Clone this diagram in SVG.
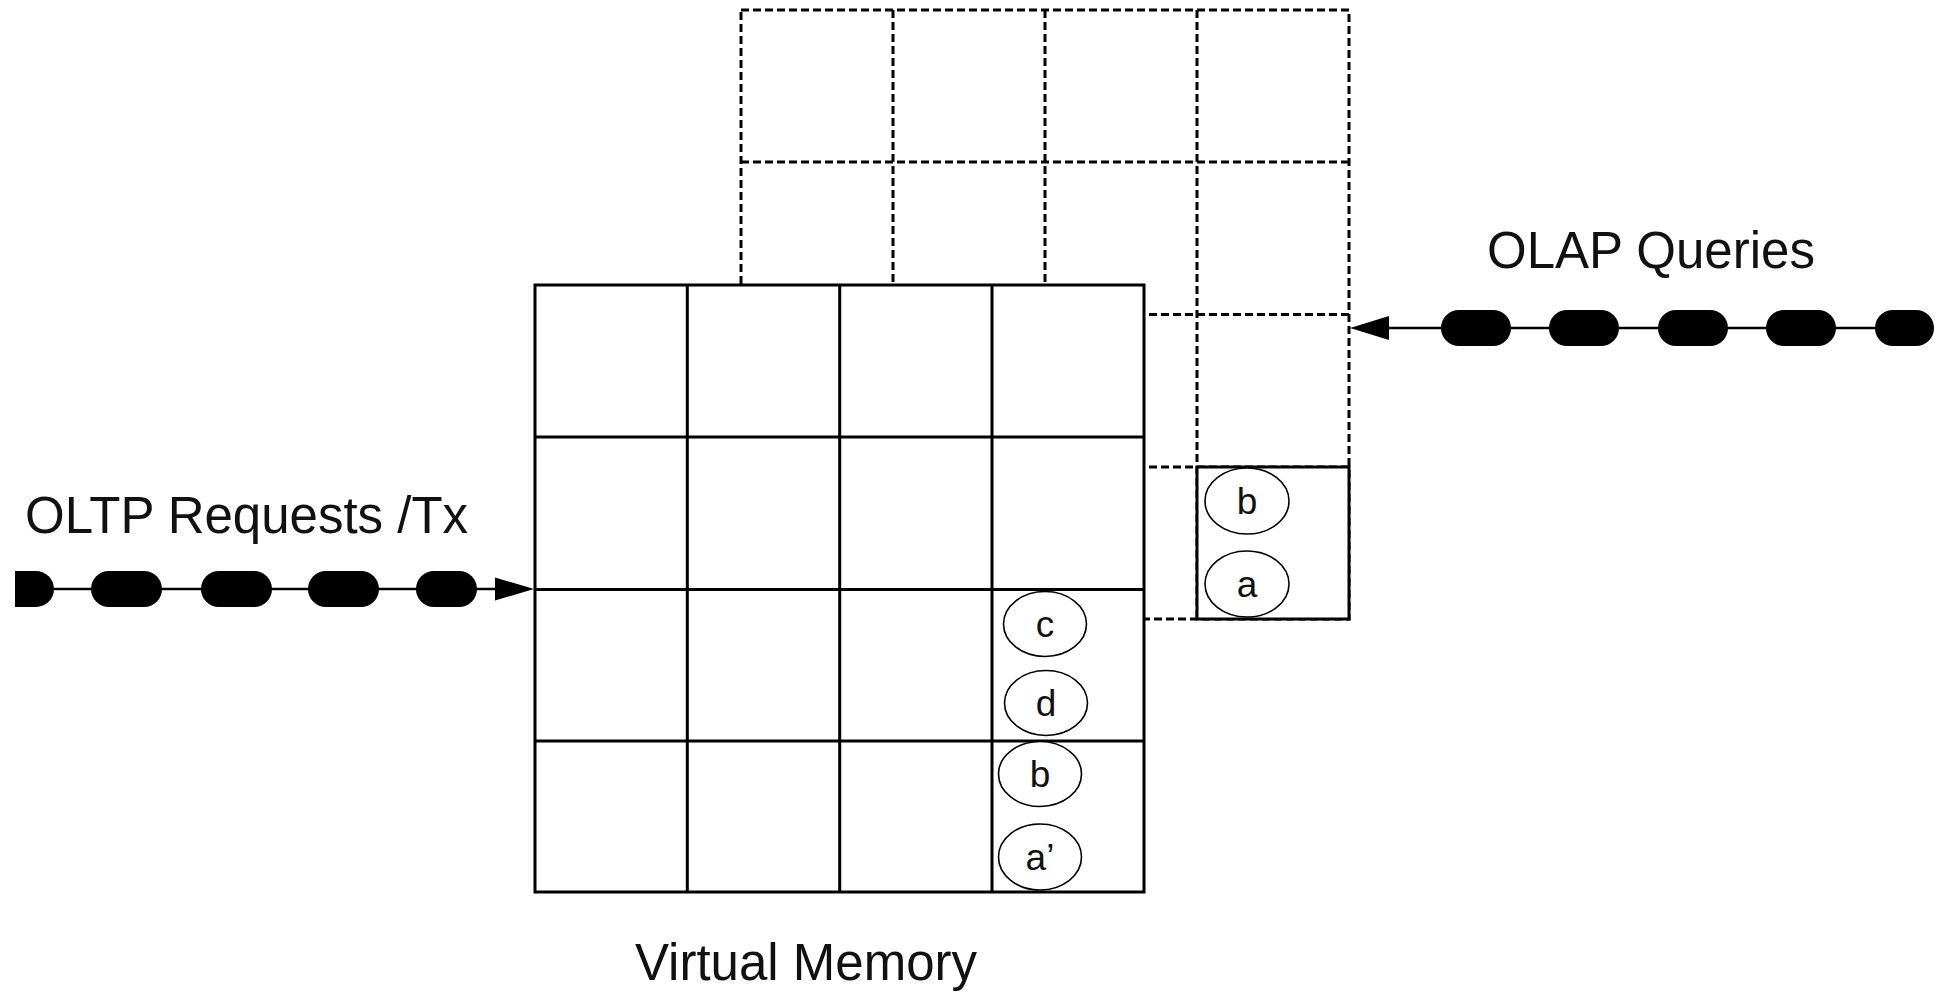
<svg xmlns="http://www.w3.org/2000/svg" width="1942" height="992" viewBox="0 0 1942 992">
<style>
.dash{fill:none;stroke:#000;stroke-width:3;stroke-dasharray:8 4}
.solid{fill:#fff;stroke:#000;stroke-width:3}
.sl{stroke:#000;stroke-width:3}
.ell{fill:#fff;stroke:#000;stroke-width:1.6}
.lt{font-family:"Liberation Sans",Arial,sans-serif;font-size:37px;text-anchor:middle;fill:#111}
.lbl{font-family:"Liberation Sans",Arial,sans-serif;font-size:51px;fill:#111}
.pill{fill:#000}
.ln{stroke:#000;stroke-width:2.5}
</style>
<rect width="1942" height="992" fill="#fff"/>
<g id="olap-grid">
<rect class="dash" x="741" y="10" width="608" height="609"/>
<path class="dash" d="M893,10V619M1045,10V619M1197,10V619M741,162H1349M741,314.5H1349M741,467H1349"/>
</g>
<g id="virtual-memory-grid">
<rect class="solid" x="535" y="285" width="609" height="607"/>
<path class="sl" d="M687.3,285V892M839.7,285V892M992,285V892M535,437H1144M535,589.5H1144M535,741H1144"/>
</g>
<g id="olap-page">
<rect class="solid" x="1197" y="467" width="152" height="152"/>
</g>
<g id="item-b-olap"><ellipse class="ell" cx="1247" cy="501" rx="42" ry="33"/><text class="lt" x="1247" y="514">b</text></g>
<g id="item-a-olap"><ellipse class="ell" cx="1247" cy="584" rx="42" ry="33"/><text class="lt" x="1247" y="597">a</text></g>
<g id="item-c"><ellipse class="ell" cx="1045" cy="624" rx="41.5" ry="32.5"/><text class="lt" x="1045" y="637">c</text></g>
<g id="item-d"><ellipse class="ell" cx="1046" cy="703" rx="41.5" ry="32.5"/><text class="lt" x="1046" y="716">d</text></g>
<g id="item-b"><ellipse class="ell" cx="1040" cy="774" rx="41.5" ry="32.5"/><text class="lt" x="1040" y="787">b</text></g>
<g id="item-a-prime"><ellipse class="ell" cx="1040" cy="857" rx="41.5" ry="33"/><text class="lt" x="1040" y="870">a’</text></g>
<g id="connectors">
<g id="oltp-arrow">
<line class="ln" x1="15" y1="589" x2="497" y2="589"/>
<path class="pill" d="M15,571H36A18,18 0 0 1 36,607H15Z"/>
<rect class="pill" x="91" y="571" width="71" height="36" rx="18"/>
<rect class="pill" x="201" y="571" width="71" height="36" rx="18"/>
<rect class="pill" x="308" y="571" width="71" height="36" rx="18"/>
<rect class="pill" x="416" y="571" width="61" height="36" rx="18"/>
<path class="pill" d="M495,577.5L534,589L495,600.5Z"/>
</g>
<g id="olap-arrow">
<line class="ln" x1="1385" y1="328" x2="1934" y2="328"/>
<rect class="pill" x="1441" y="310" width="70" height="36" rx="18"/>
<rect class="pill" x="1549" y="310" width="70" height="36" rx="18"/>
<rect class="pill" x="1658" y="310" width="70" height="36" rx="18"/>
<rect class="pill" x="1766" y="310" width="70" height="36" rx="18"/>
<rect class="pill" x="1875" y="310" width="59" height="36" rx="18"/>
<path class="pill" d="M1389,316L1350,328L1389,340Z"/>
</g>
</g>
<g id="labels">
<text class="lbl" x="25" y="533">OLTP Requests /Tx</text>
<text class="lbl" x="1487" y="268">OLAP Queries</text>
<text class="lbl" x="635" y="980">Virtual Memory</text>
</g>
</svg>
